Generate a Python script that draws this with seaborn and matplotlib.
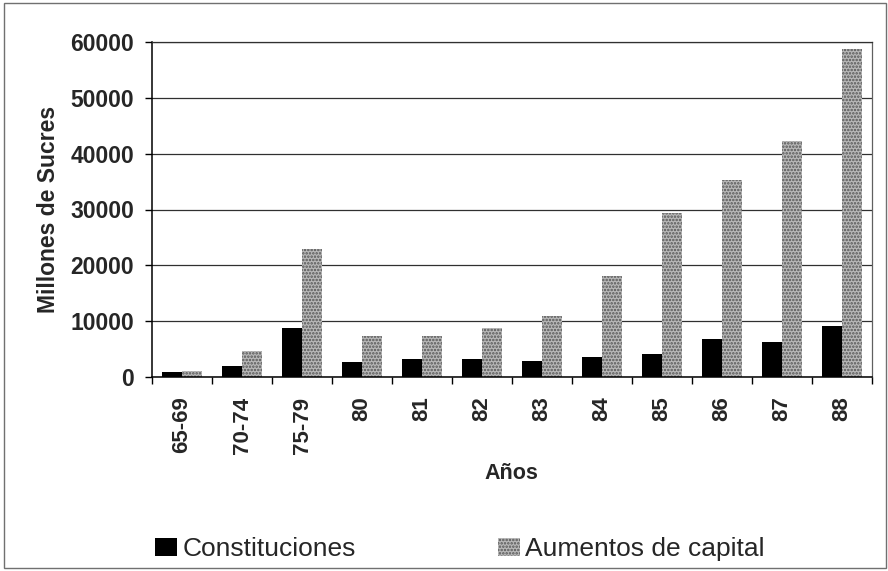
import matplotlib
matplotlib.use("Agg")
import matplotlib.pyplot as plt
import seaborn as sns
import pandas as pd
from matplotlib.patches import Rectangle

categories = ["65-69", "70-74", "75-79", "80", "81", "82", "83", "84", "85", "86", "87", "88"]
constituciones = [900, 1900, 8800, 2600, 3250, 3250, 2800, 3500, 4100, 6750, 6350, 9150]
aumentos = [1000, 4600, 23000, 7400, 7350, 8750, 11000, 18100, 29450, 35300, 42350, 58700]
series_names = ["Constituciones", "Aumentos de capital"]
y_ticks = [0, 10000, 20000, 30000, 40000, 50000, 60000]

df = pd.DataFrame({
    "Año": categories * 2,
    "Serie": [series_names[0]] * len(categories) + [series_names[1]] * len(categories),
    "Valor": constituciones + aumentos,
})

sns.set_theme(style="white")
plt.rcParams["font.family"] = ["Liberation Sans", "DejaVu Sans"]
plt.rcParams["hatch.linewidth"] = 1.2

fig = plt.figure(figsize=(8.88, 5.71), dpi=100)
ax = fig.add_axes([152 / 888, 1 - 377 / 571, (872 - 152) / 888, (377 - 42) / 571])

sns.barplot(data=df, x="Año", y="Valor", hue="Serie", order=categories,
            hue_order=series_names, palette=["black", "#b4b4b4"],
            width=0.68, gap=0, saturation=1, legend=False, ax=ax)

for p in ax.containers[0]:
    p.set_edgecolor("black")
    p.set_linewidth(0)
for p in ax.containers[1]:
    p.set_facecolor("#b8b8b8")
    p.set_edgecolor("#555555")
    p.set_hatch(".....")
    p.set_linewidth(0)

ax.set_ylim(0, 60000)
ax.set_xlim(-0.5, len(categories) - 0.5)
ax.set_yticks(y_ticks)
ax.set_yticklabels([str(v) for v in y_ticks], fontsize=16.5, fontweight="bold")
ax.set_xticks(range(len(categories)))
ax.set_xticklabels(categories, rotation=90, fontsize=16, fontweight="bold")
ax.set_xticks([i - 0.5 for i in range(len(categories) + 1)], minor=True)
ax.tick_params(axis="x", which="major", length=0, pad=14)
ax.tick_params(axis="x", which="minor", length=5, width=1, color="black", direction="out", bottom=True)
ax.tick_params(axis="y", which="major", length=5, width=1, color="black", direction="out", left=True, pad=8)

ax.yaxis.grid(True, color="#303030", linewidth=0.9)
ax.xaxis.grid(False)
ax.set_axisbelow(True)

for side in ["left", "bottom"]:
    ax.spines[side].set_color("black")
    ax.spines[side].set_linewidth(1.1)
ax.spines["top"].set_color("#303030")
ax.spines["top"].set_linewidth(0.9)
ax.spines["right"].set_color("#606060")
ax.spines["right"].set_linewidth(0.9)

ax.set_ylabel("Millones de Sucres", fontsize=16.5, fontweight="bold", va="center")
ax.yaxis.set_label_coords(-0.144, 0.5)
ax.set_xlabel("Años", fontsize=15.5, fontweight="bold", va="center")
ax.xaxis.set_label_coords(0.499, -0.287)

fig.legend(handles=[ax.containers[0], ax.containers[1]], labels=series_names,
           loc="center left", bbox_to_anchor=(155 / 888, 1 - 549 / 571),
           ncol=2, frameon=False, fontsize=19, borderpad=0, borderaxespad=0,
           handlelength=0.83, handleheight=0.65, handletextpad=0.2, columnspacing=5.4)

fig.patches.append(Rectangle((4 / 888, 3 / 571), 882 / 888, 565 / 571, transform=fig.transFigure,
                             fill=False, edgecolor="#707070", linewidth=1.0))

fig.savefig("out.png", dpi=100, facecolor="white")
